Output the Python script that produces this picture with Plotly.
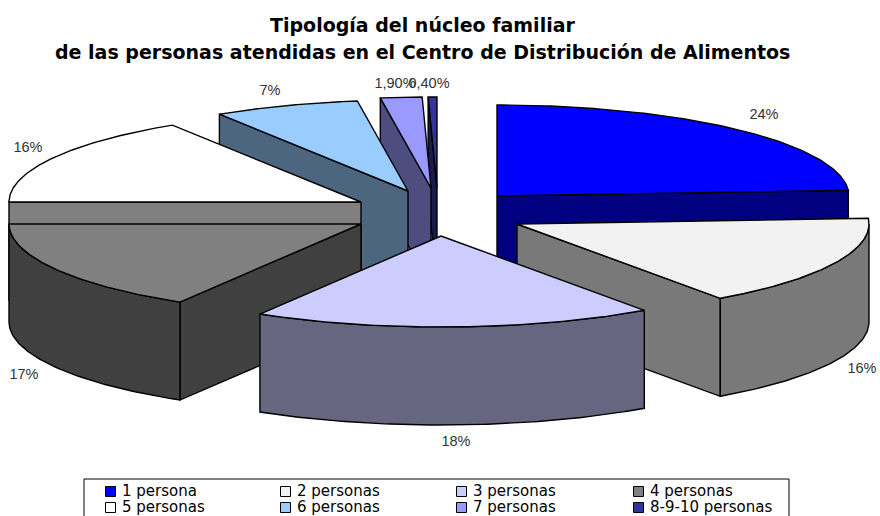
import numpy as np
import plotly.graph_objects as go

# ---- data ----
categories = ["1 persona", "2 personas", "3 personas", "4 personas",
              "5 personas", "6 personas", "7 personas", "8-9-10 personas"]
values = [24, 16.2, 18.4, 16.4, 16, 6.7, 1.9, 0.4]
value_labels = ["24%", "16%", "18%", "17%", "16%", "7%", "1,90%", "0,40%"]
title_lines = ["Tipología del núcleo familiar",
               "de las personas atendidas en el Centro de Distribución de Alimentos"]

# ---- styles ----
top_colors = ["#0000FF", "#F2F2F2", "#CCCCFF", "#808080", "#FFFFFF", "#99CCFF", "#9999FF", "#333399"]
side_colors = ["#000080", "#797979", "#666680", "#404040", "#808080", "#4D6680", "#4D4D80", "#1A1A4D"]

# ---- layout of the exploded 3-D pie (pixels) ----
RX, RY, DEPTH = 352, 91, 98
apex_x = [497, 517, 441, 361, 361, 408, 431, 437]
apex_y = [196, 224, 236, 224, 202, 191, 188, 188]
draw_order = [7, 6, 5, 4, 3, 0, 1, 2]
label_x = [764, 862, 456, 24, 28, 270, 395, 429]
label_y = [115, 369, 442, 375, 148, 91, 84, 84]
legend_text_x = [122, 297, 473, 650]
legend_text_y = [492, 508]

fig = go.Figure()
LINE = dict(color="black", width=1.4)


def poly(xs, ys, color):
    fig.add_trace(go.Scatter(x=list(xs), y=list(ys), mode="lines", fill="toself",
                             fillcolor=color, line=LINE, hoverinfo="skip"))


edges = np.concatenate([[0], np.cumsum(values)]) / np.sum(values) * 360.0

for i in draw_order:
    a0, a1 = edges[i], edges[i + 1]
    cx, cy = apex_x[i], apex_y[i]
    px = lambda a: cx + RX * np.sin(np.radians(a))
    py = lambda a: cy - RY * np.cos(np.radians(a))
    # cut faces
    if 180 < a0 < 360:
        poly([cx, px(a0), px(a0), cx, cx], [cy, py(a0), py(a0) + DEPTH, cy + DEPTH, cy], side_colors[i])
    if 0 < a1 < 180:
        poly([cx, px(a1), px(a1), cx, cx], [cy, py(a1), py(a1) + DEPTH, cy + DEPTH, cy], side_colors[i])
    # outer wall (front half only)
    lo, hi = max(a0, 90), min(a1, 270)
    if hi > lo:
        t = np.linspace(lo, hi, 80)
        poly(np.r_[px(t), px(t[::-1]), px(t[0])],
             np.r_[py(t), py(t[::-1]) + DEPTH, py(t[0])], side_colors[i])
    # top face
    t = np.linspace(a0, a1, 120)
    poly(np.r_[cx, px(t), cx], np.r_[cy, py(t), cy], top_colors[i])

# value labels
fig.add_trace(go.Scatter(x=label_x, y=label_y, mode="text", text=value_labels,
                         textposition="middle center", hoverinfo="skip",
                         textfont=dict(family="Liberation Sans", size=14.5, color="#333333")))

# legend
lx = [legend_text_x[k % 4] for k in range(8)]
ly = [legend_text_y[k // 4] for k in range(8)]
fig.add_trace(go.Scatter(x=[v - 11.5 for v in lx], y=[v - 0.5 for v in ly], mode="markers", hoverinfo="skip",
                         marker=dict(symbol="square", size=10, color=top_colors,
                                     line=dict(color="black", width=1))))
fig.add_trace(go.Scatter(x=lx, y=ly, mode="text", text=categories,
                         textposition="middle right", hoverinfo="skip",
                         textfont=dict(family="DejaVu Sans", size=15, color="black")))

fig.update_layout(
    width=880, height=516, margin=dict(l=0, r=0, t=0, b=0),
    paper_bgcolor="white", plot_bgcolor="white", showlegend=False,
    xaxis=dict(range=[0, 880], visible=False, fixedrange=True),
    yaxis=dict(range=[516, 0], visible=False, fixedrange=True),
    shapes=[dict(type="rect", xref="x", yref="y", x0=84, x1=789, y0=479, y1=520,
                 line=dict(color="black", width=1), layer="below")],
    annotations=[dict(x=422, y=yy, xref="x", yref="y", showarrow=False, align="center",
                      text=f"<b>{line}</b>",
                      font=dict(family="DejaVu Sans", size=19, color="black"))
                 for line, yy in zip(title_lines, [25, 52])],
)
fig.write_html("out.html", config={"displayModeBar": False},
               post_script="document.body.style.margin='0';")
